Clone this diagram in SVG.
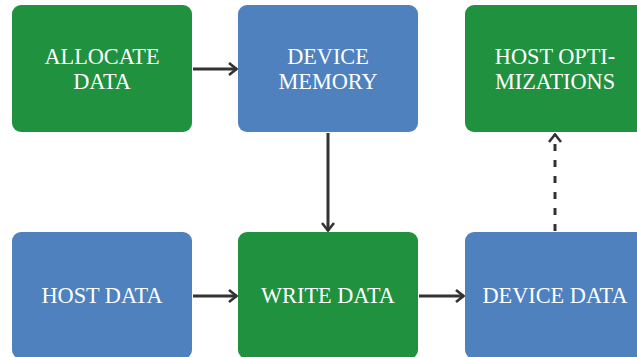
<svg xmlns="http://www.w3.org/2000/svg" width="637" height="357" viewBox="0 0 637 357">
<style>
.g{fill:#1f913f}
.b{fill:#4e81bd}
.t{font-family:"Liberation Serif","Times New Roman",serif;font-size:22.3px;fill:#fff;text-anchor:middle}
.c{stroke:#333;stroke-width:3;fill:none}
</style>
<defs>
<marker id="ah" viewBox="0 0 10 14" refX="9" refY="7" markerWidth="10" markerHeight="14" markerUnits="userSpaceOnUse" orient="auto">
<path d="M1,1 L8.5,7 L1,13" fill="none" stroke="#333" stroke-width="2.6"/>
</marker>
</defs>
<rect width="637" height="357" fill="#fff"/>
<g id="allocate"><rect class="g" x="12" y="5" width="180" height="127" rx="9"/><text class="t" x="102" y="64">ALLOCATE</text><text class="t" x="102" y="89">DATA</text></g>
<g id="devmem"><rect class="b" x="238" y="5" width="180" height="127" rx="9"/><text class="t" x="328" y="64">DEVICE</text><text class="t" x="328" y="89">MEMORY</text></g>
<g id="hostopt"><rect class="g" x="465" y="5" width="180" height="127" rx="9"/><text class="t" x="555" y="64">HOST OPTI-</text><text class="t" x="555" y="89">MIZATIONS</text></g>
<g id="hostdata"><rect class="b" x="12" y="232" width="180" height="127" rx="9"/><text class="t" x="102" y="303">HOST DATA</text></g>
<g id="write"><rect class="g" x="238" y="232" width="180" height="127" rx="9"/><text class="t" x="328" y="303">WRITE DATA</text></g>
<g id="devdata"><rect class="b" x="465" y="232" width="180" height="127" rx="9"/><text class="t" x="555" y="303">DEVICE DATA</text></g>
<g id="connectors">
<line class="c" x1="193" y1="69" x2="237" y2="69" marker-end="url(#ah)"/>
<line class="c" x1="328" y1="133" x2="328" y2="231" marker-end="url(#ah)"/>
<line class="c" x1="193" y1="296" x2="237" y2="296" marker-end="url(#ah)"/>
<line class="c" x1="419" y1="296" x2="464" y2="296" marker-end="url(#ah)"/>
<line class="c" x1="555" y1="231" x2="555" y2="134" stroke-dasharray="7,9" marker-end="url(#ah)"/>
</g>
</svg>
